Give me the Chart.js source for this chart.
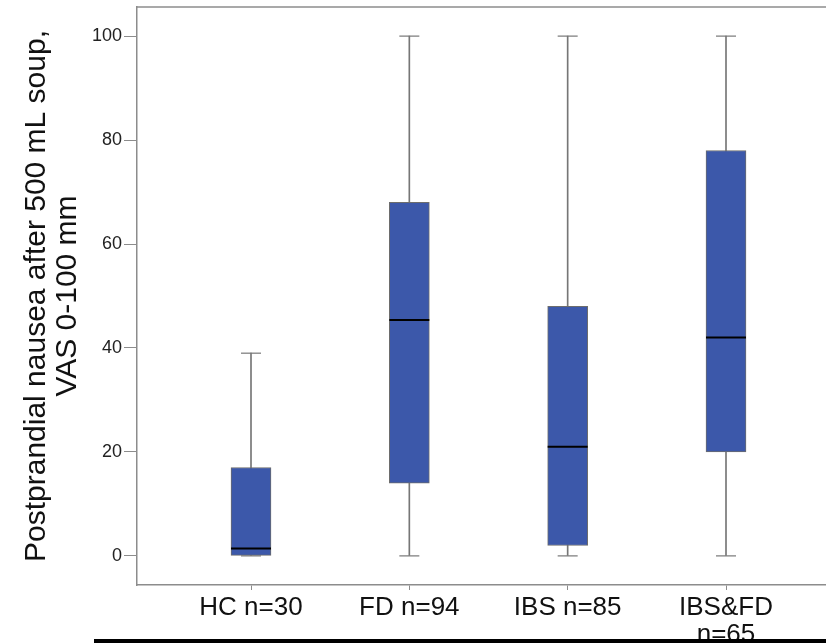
<!DOCTYPE html>
<html><head><meta charset="utf-8">
<script src="https://cdn.jsdelivr.net/npm/chart.js@4/dist/chart.umd.min.js"></script>
<style>
html,body{margin:0;padding:0;background:#fff}
#wrap{position:fixed;left:0;top:0;width:826px;height:643px;overflow:hidden}
#c{display:block}
</style>
</head><body><div id="wrap"><canvas id="c" width="880" height="643"></canvas></div>
<script>
const categories = ['HC n=30', 'FD n=94', 'IBS n=85', ['IBS&FD', 'n=65']];
const positions = [1, 2, 3, 4];
const minVals = [0, 0, 0, 0];
const q1Vals = [0, 14, 2, 20];
const medianVals = [1.4, 45.4, 21, 42];
const q3Vals = [17, 68, 48, 78];
const maxVals = [39, 100, 100, 100];
const yTicks = [0, 20, 40, 60, 80, 100];

const FONT = "'Liberation Sans', Arial, sans-serif";
const boxColor = '#3C58AA';
const whiskerColor = '#767676';
const axisColor = '#8c8c8c';

const stems = positions.map((x, i) => ({x, y: [minVals[i], maxVals[i]]}));
const boxes = positions.map((x, i) => ({x, y: [q1Vals[i], q3Vals[i]]}));
const medians = positions.map((x, i) => ({x, y: medianVals[i]}));
const caps = positions.flatMap((x, i) => [{x, y: minVals[i]}, {x, y: maxVals[i]}]);

const framePlugin = {
  id: 'frame',
  afterDraw(chart) {
    const {ctx, chartArea} = chart;
    ctx.save();
    ctx.strokeStyle = axisColor;
    ctx.lineWidth = 1.5;
    ctx.beginPath();
    ctx.moveTo(chartArea.left, chartArea.top);
    ctx.lineTo(chartArea.right + 20, chartArea.top);
    ctx.stroke();
    // black rule at the bottom of the figure
    ctx.fillStyle = '#000';
    ctx.fillRect(94, 639, 800, 4);
    ctx.restore();
  }
};

new Chart(document.getElementById('c'), {
  type: 'bar',
  data: {
    datasets: [
      {
        type: 'bar', data: stems, grouped: false, barThickness: 1,
        backgroundColor: whiskerColor, borderWidth: 0, order: 3
      },
      {
        type: 'bar', data: boxes, grouped: false, barThickness: 40,
        backgroundColor: boxColor, borderColor: '#6d6d6d', borderWidth: 1,
        borderSkipped: false, order: 2
      },
      {
        type: 'scatter', data: caps, pointStyle: 'line', radius: 10,
        borderColor: whiskerColor, borderWidth: 1.2, order: 1
      },
      {
        type: 'scatter', data: medians, pointStyle: 'line', radius: 20,
        borderColor: '#000', borderWidth: 2, order: 0
      }
    ]
  },
  options: {
    responsive: false,
    animation: false,
    devicePixelRatio: 1,
    layout: {autoPadding: false, padding: {top: 7, right: 40, bottom: 0, left: 0}},
    plugins: {legend: {display: false}, tooltip: {enabled: false}},
    scales: {
      x: {
        type: 'linear', min: 0.28, max: 4.72, offset: false,
        afterBuildTicks: s => { s.ticks = positions.map(v => ({value: v})); },
        afterFit: s => { s.height = 58; s.paddingLeft = 0; s.paddingRight = 0; },
        grid: {drawOnChartArea: false, drawTicks: true, tickLength: 5, color: axisColor, offset: false},
        border: {display: true, color: axisColor, width: 1.5},
        ticks: {
          autoSkip: false, maxRotation: 0, padding: 4, color: '#111',
          font: {family: FONT, size: 26, lineHeight: 1.04},
          callback: v => categories[positions.indexOf(v)]
        }
      },
      y: {
        type: 'linear', min: -5.6, max: 105.6,
        afterBuildTicks: s => { s.ticks = yTicks.map(v => ({value: v})); },
        afterFit: s => { s.width = 137; s.paddingTop = 0; s.paddingBottom = 0; },
        grid: {drawOnChartArea: false, drawTicks: true, tickLength: 13, color: axisColor, offset: false},
        border: {display: true, color: axisColor, width: 1.5},
        ticks: {padding: 2, color: '#222', font: {family: FONT, size: 18}},
        title: {
          display: true,
          text: ['Postprandial nausea after 500 mL soup,', 'VAS 0-100 mm'],
          color: '#111',
          font: {family: FONT, size: 30, lineHeight: 1.03},
          padding: {top: 21, bottom: 0}
        }
      }
    }
  },
  plugins: [framePlugin]
});
</script>
</body></html>
